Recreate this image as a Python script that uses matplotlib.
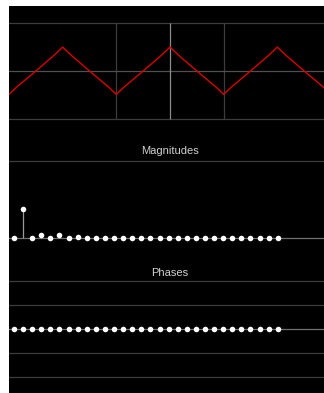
import numpy as np
import matplotlib
matplotlib.use("Agg")
import matplotlib.pyplot as plt

# signal samples (time, value) of the triangle wave
t = [-3.0, -2.86, -2.5, -2.18, -2.0, -1.83, -1.5, -1.14, -1.0, -0.86, -0.5, -0.18,
     0.0, 0.17, 0.5, 0.86, 1.0, 1.14, 1.5, 1.82, 2.0, 2.17, 2.5, 2.86, 3.0]
wave = [-0.49, -0.34, 0.0, 0.31, 0.5, 0.32, 0.0, -0.34, -0.49, -0.34, 0.0, 0.31,
        0.5, 0.32, 0.0, -0.34, -0.49, -0.34, 0.0, 0.31, 0.5, 0.32, 0.0, -0.34, -0.49]

# spectrum, harmonics 0..29
harmonics = list(range(30))
magnitudes = [0.0, 0.38, 0.0, 0.035, 0.0, 0.033, 0.0, 0.017] + [0.0] * 22
phases = [0.0] * 30

W, H = 324, 393
fig = plt.figure(figsize=(W / 100, H / 100), dpi=100, facecolor="white")

# black canvas behind the three panels
bg = fig.add_axes([9 / W, 0, 1 - 9 / W, 1 - 6 / H])
bg.set_facecolor("black")
bg.set_axis_off()
bg.add_artist(plt.Rectangle((0, 0), 1, 1, transform=bg.transAxes, color="black"))


def px_axes(top, bottom):
    # axes placed by pixel rows, running a little past the right edge
    ax = fig.add_axes([9 / W, 1 - bottom / H, 322 / W, (bottom - top) / H])
    ax.set_facecolor("none")
    ax.set_axis_off()
    return ax


grid = "#3c3c3c"

# time signal
ax1 = px_axes(6, 135)
ax1.set_xlim(-3, 3)
ax1.set_ylim(-(135 - 71) / 47.7, (71 - 6) / 47.7)
for v in (-1, 1):
    ax1.axhline(v, color=grid, lw=0.9)
ax1.vlines([-1, 1], -1, 1, color=grid, lw=0.9)
ax1.axhline(0, color="#505050", lw=0.9)
ax1.vlines(0, -1, 1, color="#8c8c8c", lw=0.9)
ax1.plot(t, wave, color="#dd0000", lw=1.0)

# magnitudes
ax2 = px_axes(158, 262)
ax2.set_xlim(-0.55, 34.85)
ax2.set_ylim(-(262 - 238) / 77.3, (238 - 158) / 77.3)
ax2.axhline(1, color=grid, lw=0.9)
ax2.axhline(0, color="#707070", lw=0.9)
ax2.vlines(harmonics, 0, magnitudes, color="#9a9a9a", lw=0.9)
ax2.plot(harmonics, magnitudes, "o", color="white", ms=4, mec="none")
fig.text(170 / W, 1 - 151 / H, "Magnitudes", color="#d0d0d0", fontsize=8,
         family="Liberation Sans", ha="center", va="center")

# phases
ax3 = px_axes(278, 393)
ax3.set_xlim(-0.55, 34.85)
ax3.set_ylim(-(393 - 328.7) / 15.28, (328.7 - 278) / 15.28)
for v in (-np.pi, -np.pi / 2, np.pi / 2, np.pi):
    ax3.axhline(v, color=grid, lw=0.9)
ax3.axhline(0, color="#707070", lw=0.9)
ax3.plot(harmonics, phases, "o", color="white", ms=4, mec="none")
fig.text(170 / W, 1 - 273.5 / H, "Phases", color="#d0d0d0", fontsize=8,
         family="Liberation Sans", ha="center", va="center")

fig.savefig("out.png", dpi=100, facecolor="white")
